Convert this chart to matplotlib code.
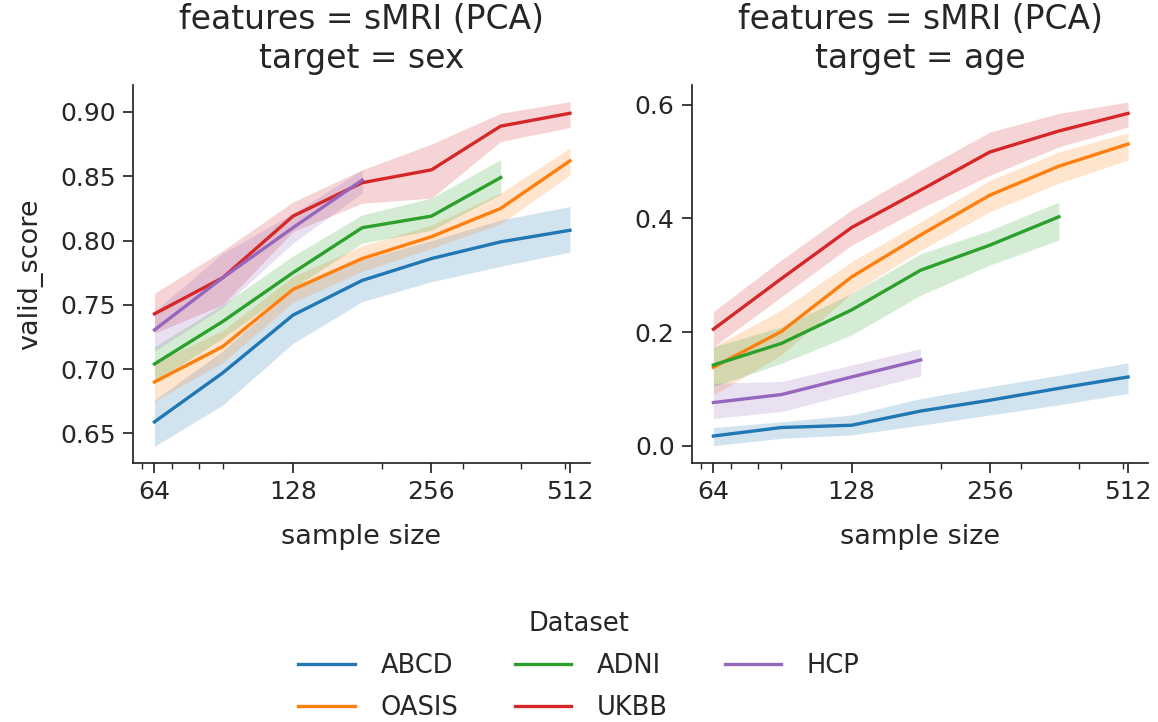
import matplotlib
matplotlib.use("Agg")
import matplotlib.pyplot as plt
from matplotlib.ticker import FixedLocator, NullFormatter, FormatStrFormatter
from matplotlib.lines import Line2D

# ---- data ----
sample_sizes = [64, 90, 128, 181, 256, 362, 512]
datasets = ["ABCD", "OASIS", "ADNI", "UKBB", "HCP"]
colors = {"ABCD": "#1f77b4", "OASIS": "#ff7f0e", "ADNI": "#2ca02c",
          "UKBB": "#d62728", "HCP": "#9467bd"}

# target = sex
sex_mean = {
    "ABCD":  [0.659, 0.697, 0.742, 0.769, 0.786, 0.799, 0.808],
    "OASIS": [0.690, 0.7175, 0.762, 0.786, 0.803, 0.825, 0.862],
    "ADNI":  [0.704, 0.737, 0.775, 0.810, 0.819, 0.849],
    "UKBB":  [0.743, 0.771, 0.819, 0.845, 0.855, 0.889, 0.899],
    "HCP":   [0.7305, 0.771, 0.810, 0.847],
}
sex_lo = {
    "ABCD":  [0.640, 0.672, 0.720, 0.7525, 0.768, 0.780, 0.791],
    "OASIS": [0.675, 0.705, 0.752, 0.776, 0.794, 0.813, 0.851],
    "ADNI":  [0.690, 0.724, 0.763, 0.798, 0.808, 0.836],
    "UKBB":  [0.728, 0.750, 0.807, 0.829, 0.833, 0.877, 0.888],
    "HCP":   [0.714, 0.748, 0.798, 0.837],
}
sex_hi = {
    "ABCD":  [0.676, 0.714, 0.762, 0.785, 0.800, 0.816, 0.8265],
    "OASIS": [0.705, 0.730, 0.772, 0.796, 0.812, 0.837, 0.872],
    "ADNI":  [0.7175, 0.750, 0.788, 0.820, 0.833, 0.863],
    "UKBB":  [0.759, 0.792, 0.830, 0.855, 0.875, 0.899, 0.908],
    "HCP":   [0.745, 0.790, 0.821, 0.855],
}

# target = age
age_mean = {
    "ABCD":  [0.017, 0.032, 0.036, 0.061, 0.080, 0.101, 0.121],
    "OASIS": [0.138, 0.201, 0.297, 0.371, 0.441, 0.492, 0.531],
    "ADNI":  [0.142, 0.180, 0.239, 0.309, 0.353, 0.403],
    "UKBB":  [0.205, 0.294, 0.384, 0.450, 0.517, 0.554, 0.585],
    "HCP":   [0.076, 0.090, 0.121, 0.151],
}
age_lo = {
    "ABCD":  [0.000, 0.013, 0.019, 0.036, 0.054, 0.072, 0.092],
    "OASIS": [0.089, 0.160, 0.268, 0.344, 0.412, 0.462, 0.503],
    "ADNI":  [0.104, 0.145, 0.195, 0.265, 0.318, 0.362],
    "UKBB":  [0.174, 0.262, 0.353, 0.418, 0.476, 0.526, 0.561],
    "HCP":   [0.048, 0.060, 0.092, 0.123],
}
age_hi = {
    "ABCD":  [0.032, 0.042, 0.054, 0.083, 0.104, 0.124, 0.146],
    "OASIS": [0.174, 0.239, 0.324, 0.394, 0.467, 0.517, 0.551],
    "ADNI":  [0.174, 0.209, 0.268, 0.338, 0.379, 0.429],
    "UKBB":  [0.236, 0.327, 0.415, 0.485, 0.552, 0.585, 0.605],
    "HCP":   [0.110, 0.113, 0.142, 0.171],
}

x_ticks = [64, 128, 256, 512]
x_ticklabels = ["64", "128", "256", "512"]
titles = ["features = sMRI (PCA)\ntarget = sex", "features = sMRI (PCA)\ntarget = age"]

# ---- style ----
TXT = "0.15"
plt.rcParams.update({
    "font.family": ["DejaVu Sans"],
    "text.color": TXT, "axes.labelcolor": TXT,
    "xtick.color": TXT, "ytick.color": TXT, "axes.edgecolor": TXT,
})

fig = plt.figure(figsize=(11.58, 7.22), dpi=100)
ax1 = fig.add_axes([0.1149, 0.3587, 0.3946, 0.5236])
ax2 = fig.add_axes([0.5976, 0.3587, 0.3938, 0.5236])

panels = [(ax1, sex_mean, sex_lo, sex_hi, "%.2f"), (ax2, age_mean, age_lo, age_hi, "%.1f")]
for i, (ax, m, lo, hi, fmt) in enumerate(panels):
    for d in datasets:
        n = len(m[d])
        xs = sample_sizes[:n]
        ax.fill_between(xs, lo[d], hi[d], color=colors[d], alpha=0.2, linewidth=0)
        ax.plot(xs, m[d], color=colors[d], lw=2.4)
    ax.set_xscale("log")
    ax.xaxis.set_major_locator(FixedLocator(x_ticks))
    ax.set_xticklabels(x_ticklabels)
    ax.xaxis.set_minor_formatter(NullFormatter())
    ax.yaxis.set_major_formatter(FormatStrFormatter(fmt))
    for s in ["top", "right"]:
        ax.spines[s].set_visible(False)
    for s in ["left", "bottom"]:
        ax.spines[s].set_linewidth(1.25)
    ax.tick_params(axis="both", which="major", labelsize=18, length=7.5, width=1.25, pad=5)
    ax.tick_params(axis="both", which="minor", length=4.5, width=1.0)
    ax.set_xlabel("sample size", fontsize=19.5, labelpad=14)
    ax.set_title(titles[i], fontsize=23.8, pad=12, linespacing=1.25)

ax1.set_xlim(57.5, 566)
ax2.set_xlim(57.5, 566)
ax1.set_ylim(0.627, 0.921)
ax1.set_yticks([0.65, 0.70, 0.75, 0.80, 0.85, 0.90])
ax2.set_ylim(-0.0305, 0.635)
ax2.set_yticks([0.0, 0.2, 0.4, 0.6])
ax1.set_ylabel("valid_score", fontsize=19.5, labelpad=12)

handles = [Line2D([], [], color=colors[d], lw=2.4) for d in datasets]
leg = fig.legend(handles, datasets, loc="lower center", bbox_to_anchor=(0.5, -0.030),
                 ncol=3, frameon=False, title="Dataset", fontsize=18.5,
                 title_fontsize=18.5, columnspacing=2.2, handlelength=2.2,
                 handletextpad=1.0, labelspacing=0.62)

fig.savefig("out.png", dpi=100)
